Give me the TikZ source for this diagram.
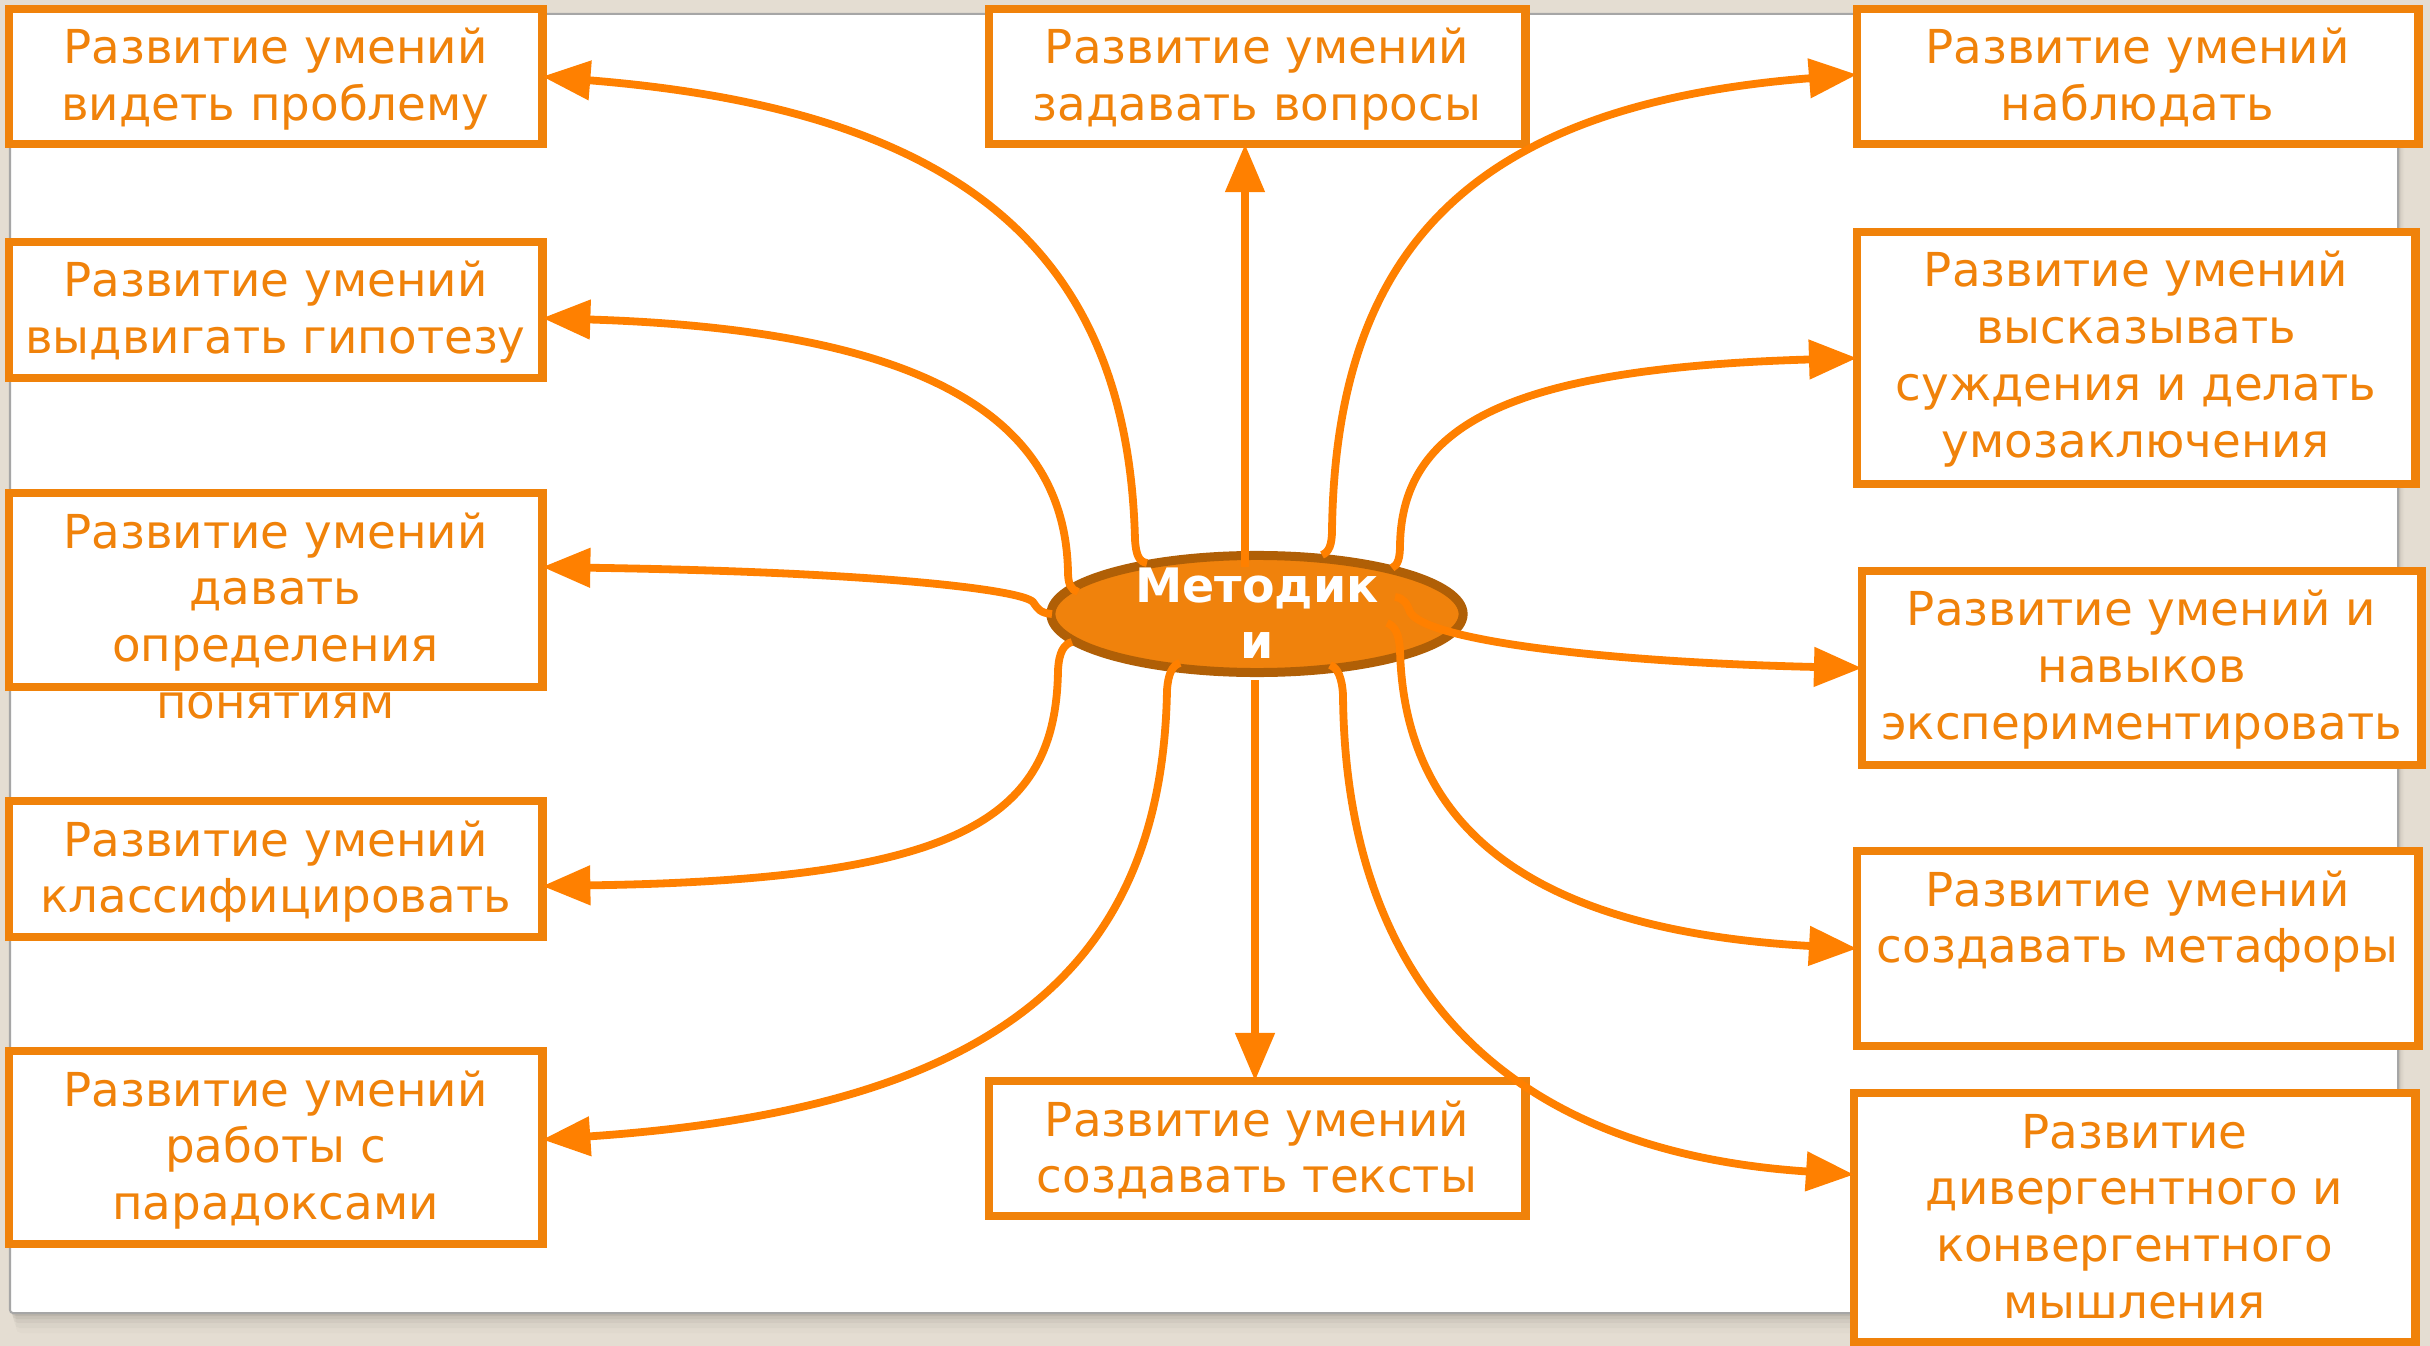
\documentclass[tikz,border=0pt]{standalone}
\usepackage{fontspec}
\setmainfont{DejaVu Sans}
\usetikzlibrary{arrows.meta,shapes.geometric,calc}
\definecolor{bgbeige}{HTML}{E4DDD2}
\definecolor{boxor}{HTML}{F0820A}
\definecolor{lineor}{HTML}{FF8000}
\definecolor{ellfill}{HTML}{F0820C}
\definecolor{elledge}{HTML}{B05F06}
\definecolor{slideedge}{HTML}{A6A6A6}
\definecolor{shadowc}{HTML}{6E6A62}
\begin{document}
\begin{tikzpicture}[x=0.01cm,y=-0.01cm,
  boxnode/.style={draw=boxor, line width=0.085cm, fill=white, rectangle, inner sep=0pt, outer sep=0pt, anchor=north west, minimum height=#1},
  txt/.style={text=boxor, inner sep=0pt, outer sep=0pt, anchor=base, font=\fontsize{13.3pt}{16.2pt}\selectfont},
  conn/.style={draw=lineor, line width=0.078cm, -{Triangle[length=0.48cm,width=0.38cm]}},
]
% page and slide
\fill[bgbeige] (0,0) rectangle (2430,1346);
\useasboundingbox (0,0) rectangle (2430,1346);
\foreach \i/\o in {1/0.16,3/0.12,6/0.10,10/0.07,15/0.05,20/0.03}{
  \fill[shadowc, opacity=\o, rounded corners=0.05cm] (10+\i*0.3,16) rectangle (2398+\i*0.3,1313+\i);
}
\draw[slideedge, line width=0.02cm, fill=white, rounded corners=0.03cm] (10,14) rectangle (2398,1313);

% boxes
\node[boxnode=1.35cm, minimum width=5.33cm] (L1) at (9,9) {};
\node[boxnode=1.36cm, minimum width=5.33cm] (L2) at (9,242) {};
\node[boxnode=1.94cm, minimum width=5.33cm] (L3) at (9,493) {};
\node[boxnode=1.36cm, minimum width=5.33cm] (L4) at (9,801) {};
\node[boxnode=1.93cm, minimum width=5.33cm] (L5) at (9,1051) {};
\node[boxnode=1.35cm, minimum width=5.36cm] (T) at (989,9) {};
\node[boxnode=1.35cm, minimum width=5.36cm] (B) at (989,1081) {};
\node[boxnode=1.35cm, minimum width=5.61cm] (R1) at (1857,9) {};
\node[boxnode=2.52cm, minimum width=5.58cm] (R2) at (1857,232) {};
\node[boxnode=1.94cm, minimum width=5.59cm] (R3) at (1862,571) {};
\node[boxnode=1.95cm, minimum width=5.61cm] (R4) at (1857,851) {};
\node[boxnode=2.49cm, minimum width=5.61cm] (R5) at (1854,1093) {};

% centre ellipse
\node[ellipse, draw=elledge, fill=ellfill, line width=0.09cm, minimum width=4.12cm, minimum height=1.17cm, inner sep=0pt, outer sep=0pt] (M) at (1257,614) {};

% anchor points on the ellipse
\coordinate (hL1) at (1147,563);
\coordinate (hL2) at (1078,592);
\coordinate (hL3) at (1052,614);
\coordinate (hL4) at (1072,642);
\coordinate (hL5) at (1180,663);
\coordinate (hR1) at (1322,555);
\coordinate (hR2) at (1392,568);
\coordinate (hR3) at (1395,597);
\coordinate (hR4) at (1387,623);
\coordinate (hR5) at (1330,665);
\coordinate (hT) at (1245,567);
\coordinate (hB) at (1255,680);

% connectors
\draw[conn] (hL1) .. controls (1139,562) and (1136,555) .. (1135,540)
  .. controls (1128,250) and (960,110) .. (L1.east);
\draw[conn] (hL2) .. controls (1071,590) and (1068,584) .. (1068,572)
  .. controls (1065,420) and (930,330) .. ($(L2.east)+(0,8)$);
\draw[conn] (hL3) .. controls (1040,613) and (1038,609) .. (1033,602)
  .. controls (1022,590) and (880,572) .. ($(L3.east)+(0,-23)$);
\draw[conn] (hL4) .. controls (1064,644) and (1059,652) .. (1058,670)
  .. controls (1056,820) and (960,880) .. ($(L4.east)+(0,17)$);
\draw[conn] (hL5) .. controls (1172,665) and (1168,675) .. (1167,690)
  .. controls (1162,980) and (980,1110) .. ($(L5.east)+(0,-8)$);
\draw[conn] (hT) -- (hT |- T.south);
\draw[conn] (hB) -- (hB |- B.north);
\draw[conn] (hR1) .. controls (1329,552) and (1332,545) .. (1332,530)
  .. controls (1336,250) and (1470,105) .. ($(R1.west)+(0,-2)$);
\draw[conn] (hR2) .. controls (1398,565) and (1400,558) .. (1400,545)
  .. controls (1402,420) and (1520,368) .. (R2.west);
\draw[conn] (hR3) .. controls (1404,598) and (1407,604) .. (1410,612)
  .. controls (1425,640) and (1600,662) .. (R3.west);
\draw[conn] (hR4) .. controls (1395,626) and (1399,634) .. (1400,650)
  .. controls (1404,820) and (1520,930) .. (R4.west);
\draw[conn] (hR5) .. controls (1338,668) and (1342,678) .. (1343,695)
  .. controls (1345,960) and (1480,1150) .. ($(R5.west)+(0,-43)$);

% ellipse text
\node[text=white, inner sep=0pt, anchor=base, font=\bfseries\fontsize{13.5pt}{15.9pt}\selectfont] (Mt) at (1257,603) {\parbox[t]{5cm}{\centering Методик\\и}};

% box texts
\node[txt] (L1t) at (275.5,64) {\parbox[t]{7cm}{\centering Развитие умений\\видеть проблему}};
\node[txt] (L2t) at (275.5,297) {\parbox[t]{7cm}{\centering Развитие умений\\выдвигать гипотезу}};
\node[txt] (L3t) at (275.5,548) {\parbox[t]{7cm}{\centering Развитие умений\\давать\\определения\\понятиям}};
\node[txt] (L4t) at (275.5,856) {\parbox[t]{7cm}{\centering Развитие умений\\классифицировать}};
\node[txt] (L5t) at (275.5,1106) {\parbox[t]{7cm}{\centering Развитие умений\\работы с\\парадоксами}};
\node[txt] (Tt) at (1257,64) {\parbox[t]{7cm}{\centering Развитие умений\\задавать вопросы}};
\node[txt] (Bt) at (1257,1136) {\parbox[t]{7cm}{\centering Развитие умений\\создавать тексты}};
\node[txt] (R1t) at (2137.5,64) {\parbox[t]{7cm}{\centering Развитие умений\\наблюдать}};
\node[txt] (R2t) at (2136,287) {\parbox[t]{7cm}{\centering Развитие умений\\высказывать\\суждения и делать\\умозаключения}};
\node[txt] (R3t) at (2141.5,626) {\parbox[t]{7cm}{\centering Развитие умений и\\навыков\\экспериментировать}};
\node[txt] (R4t) at (2137.5,906) {\parbox[t]{7cm}{\centering Развитие умений\\создавать метафоры}};
\node[txt] (R5t) at (2134.5,1148) {\parbox[t]{7cm}{\centering Развитие\\дивергентного и\\конвергентного\\мышления}};
\end{tikzpicture}
\end{document}
